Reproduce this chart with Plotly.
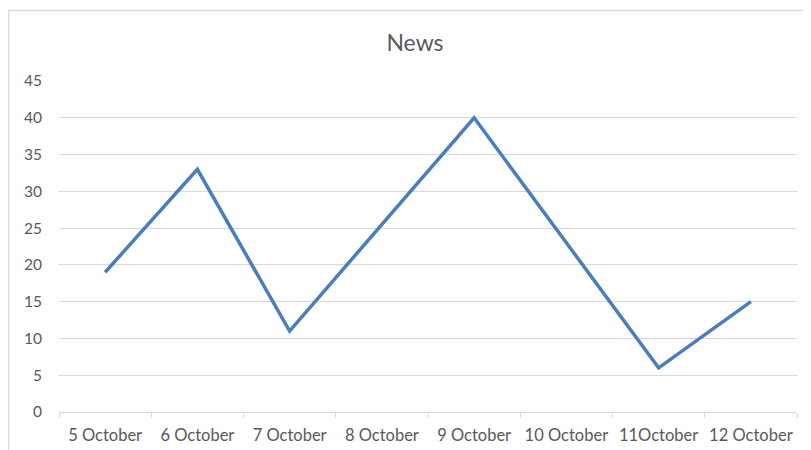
import plotly.graph_objects as go

categories = ["5 October", "6 October", "7 October", "8 October",
              "9 October", "10 October", "11October", "12 October"]
news_values = [19, 33, 11, 25.5, 40, 23, 6, 15]
y_ticks = [0, 5, 10, 15, 20, 25, 30, 35, 40, 45]

# page body has an 8px margin, so the figure is drawn from (8, 8)
OFF = 8
W, H = 811 - OFF, 450 - OFF
L, R, T, B = 59 - OFF, 14, 81 - OFF, 38
pw, ph = W - L - R, H - T - B

fig = go.Figure()
fig.add_trace(go.Scatter(
    x=categories, y=news_values, mode="lines",
    line=dict(color="#4A7EBB", width=3.5),
    showlegend=False, hoverinfo="skip"))

font_fam = "Lato, Liberation Sans, sans-serif"
grey = "#595959"

fig.update_layout(
    width=W, height=H,
    margin=dict(l=L, r=R, t=T, b=B),
    paper_bgcolor="white", plot_bgcolor="white",
    title=dict(text="News", x=(415 - OFF) / W, xanchor="center",
               y=1 - (43 - OFF) / H, yanchor="middle",
               font=dict(family=font_fam, size=23, color=grey)),
    xaxis=dict(
        type="category", range=[-0.5, 7.5], automargin=False,
        showgrid=False, zeroline=False,
        showline=True, linecolor="#D9D9D9", linewidth=1,
        ticks="outside", tickson="boundaries", ticklen=5, tickcolor="#D9D9D9",
        tickangle=0,
        tickfont=dict(family=font_fam, size=16.5, color=grey),
        ticklabelstandoff=8),
    yaxis=dict(
        range=[0, 45], tickvals=y_ticks, automargin=False,
        showgrid=True, gridcolor="#D9D9D9", gridwidth=1,
        zeroline=False, showline=False,
        ticks="", tickfont=dict(family=font_fam, size=15.5, color=grey),
        ticklabelstandoff=16),
    shapes=[dict(type="rect", xref="paper", yref="paper",
                 x0=(0.5 - L) / pw, x1=1.2, y0=-0.5, y1=(H - B - 2.5) / ph,
                 line=dict(color="#D9D9D9", width=1.5), layer="below")],
)

fig.write_html("out.html")
